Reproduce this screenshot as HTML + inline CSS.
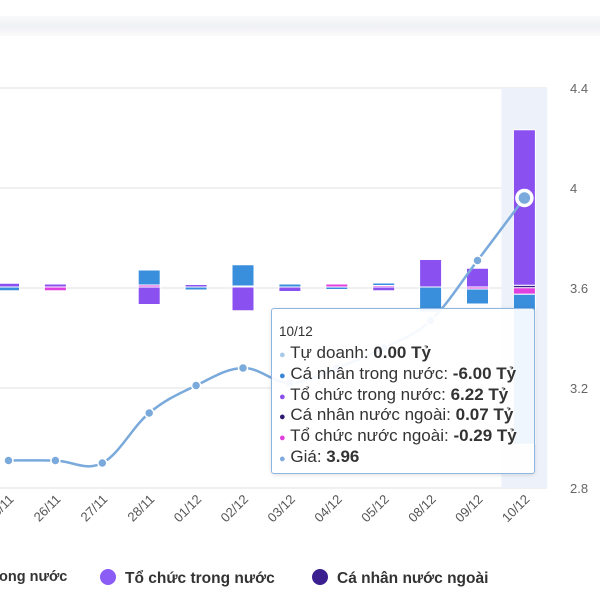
<!DOCTYPE html>
<html><head><meta charset="utf-8"><style>
html,body{margin:0;padding:0;background:#fff;width:600px;height:600px;overflow:hidden;font-family:"Liberation Sans","DejaVu Sans",sans-serif}
.tr{height:20.8px;line-height:20.8px;overflow:visible}
</style></head><body>
<svg id="chart" width="600" height="600" xmlns="http://www.w3.org/2000/svg" style="position:absolute;left:0;top:0">
<defs><linearGradient id="hdr" x1="0" y1="0" x2="0" y2="1"><stop offset="0" stop-color="#fafafb"/><stop offset="0.5" stop-color="#f0f1f4"/><stop offset="1" stop-color="#fafafb"/></linearGradient></defs>
<rect x="0" y="16" width="600" height="20" fill="url(#hdr)"/>
<g id="grid"></g><g id="band"></g><g id="bars"></g><g id="line"></g><g id="xlabels"></g><g id="ylabels"></g>
</svg>
<div style="position:absolute;left:271px;top:308px;width:264px;height:166px;background:rgba(255,255,255,0.92);border:1.5px solid #8db6e0;border-radius:3px;box-shadow:0 1px 4px rgba(0,0,0,0.12);font-size:17px;color:#333;box-sizing:border-box;padding:14px 0 0 7px;white-space:nowrap">
<div style="font-size:13.5px;height:20px;line-height:17px">10/12</div>
<div class="tr"><span style="color:#a9cbe8;font-size:11px">●</span> Tự doanh: <b>0.00 Tỷ</b></div>
<div class="tr"><span style="color:#3a86d6;font-size:11px">●</span> Cá nhân trong nước: <b>-6.00 Tỷ</b></div>
<div class="tr"><span style="color:#8a52ea;font-size:11px">●</span> Tổ chức trong nước: <b>6.22 Tỷ</b></div>
<div class="tr"><span style="color:#2e1a6e;font-size:11px">●</span> Cá nhân nước ngoài: <b>0.07 Tỷ</b></div>
<div class="tr"><span style="color:#e040e0;font-size:11px">●</span> Tổ chức nước ngoài: <b>-0.29 Tỷ</b></div>
<div class="tr"><span style="color:#7eaadc;font-size:11px">●</span> Giá: <b>3.96</b></div>
</div>
<div style="position:absolute;left:0;top:567px;width:600px;height:22px;font-size:15.5px;font-weight:bold;color:#333;white-space:nowrap">
<span style="position:absolute;left:-1px;top:2px;font-size:14.5px">ong nước</span>
<span style="position:absolute;left:100px;top:2px"><span style="display:inline-block;width:16px;height:16px;border-radius:50%;background:#8b5cf6;vertical-align:-2px;margin-right:9px"></span>Tổ chức trong nước</span>
<span style="position:absolute;left:312px;top:2px"><span style="display:inline-block;width:16px;height:16px;border-radius:50%;background:#3b1f8f;vertical-align:-2px;margin-right:9px"></span>Cá nhân nước ngoài</span>
</div>
<script>
const categories=["25/11","26/11","27/11","28/11","01/12","02/12","03/12","04/12","05/12","08/12","09/12","10/12"];
const tuDoanh=[0,0,0,0,0,0,0,0,0,0,0,0];
const caNhanTrongNuoc=[-0.15,0,0,0.6,-0.12,0.85,0.12,-0.1,0.08,-1.0,-0.6,-6.0];
const toChucTrongNuoc=[0.15,0.12,0,-0.7,0.1,-0.95,-0.18,0,-0.15,1.1,0.75,6.22];
const caNhanNuocNgoai=[0,0,0,0,0,0,0,0,0,0,0,0.07];
const toChucNuocNgoai=[0,-0.15,0,0.08,0,0.04,0,0.12,0.08,0,-0.08,-0.29];
const price=[2.91,2.91,2.90,3.10,3.21,3.28,3.22,3.28,3.36,3.47,3.71,3.96];
const yTicks=[2.8,3.2,3.6,4,4.4];
const NS="http://www.w3.org/2000/svg";
const x=i=>8.5+i*46.9;
const yP=v=>288-(v-3.6)*250;
const yB=v=>287-v*25;
function mk(t,a,p){const e=document.createElementNS(NS,t);for(const k in a)e.setAttribute(k,a[k]);p.appendChild(e);return e;}
const grid=document.getElementById('grid');
yTicks.forEach(t=>{
 const l=mk('line',{x1:0,x2:547,y1:yP(t),y2:yP(t),stroke:'#e6e6e6','stroke-width':1.2},grid);
 
 
 const tx=mk('text',{x:570,y:yP(t)+5,'font-size':13,fill:'#666'},document.getElementById('ylabels'));
 tx.textContent=String(t);
 
 
});
const hb=mk('rect',{x:x(11)-23,y:yP(4.4),width:46,height:yP(2.8)-yP(4.4),fill:'#edf1fa'},document.getElementById('band'));


const series=[[toChucNuocNgoai,'#e040e0'],[caNhanNuocNgoai,'#3b1d8a'],[toChucTrongNuoc,'#8b50f0'],[caNhanTrongNuoc,'#3a8fdc'],[tuDoanh,'#a9cbe8']];
const bars=document.getElementById('bars');
categories.forEach((c,i)=>{
 let pos=0,neg=0;
 series.forEach(([arr,col])=>{
  const v=arr[i]; if(!v)return;
  let y0,y1;
  if(v>0){y0=yB(pos+v);y1=yB(pos);pos+=v;}else{y0=yB(neg);y1=yB(neg+v);neg+=v;}
  const r=mk('rect',{x:x(i)-11,y:y0,width:22,height:Math.max(2.5,y1-y0),fill:col,stroke:'#fff','stroke-width':1},bars);
  
  
 });
});
const pts=price.map((p,i)=>[x(i),yP(p)]);
let d='M'+pts[0][0]+','+pts[0][1];
for(let i=0;i<pts.length-1;i++){
 const p0=pts[Math.max(0,i-1)],p1=pts[i],p2=pts[i+1],p3=pts[Math.min(pts.length-1,i+2)];
 const t=0.18;
 d+=' C'+(p1[0]+(p2[0]-p0[0])*t)+','+(p1[1]+(p2[1]-p0[1])*t)+' '+(p2[0]-(p3[0]-p1[0])*t)+','+(p2[1]-(p3[1]-p1[1])*t)+' '+p2[0]+','+p2[1];
}
const lg=document.getElementById('line');
const pl=mk('path',{d:d,fill:'none',stroke:'#7aaadc','stroke-width':2.5},lg);


pts.forEach((p,i)=>{
 const last=i===pts.length-1;
 const c=mk('circle',{cx:p[0],cy:p[1],r:last?7.5:4.5,fill:'#7aaadc',stroke:'#fff','stroke-width':last?3.5:1.5},lg);
 
 
 const tx=mk('text',{x:p[0]+6,y:500,'font-size':13,fill:'#555','text-anchor':'end',transform:'rotate(-45 '+(p[0]+6)+' 500)'},document.getElementById('xlabels'));
 tx.textContent=categories[i];
 
 
});
</script>
</body></html>
